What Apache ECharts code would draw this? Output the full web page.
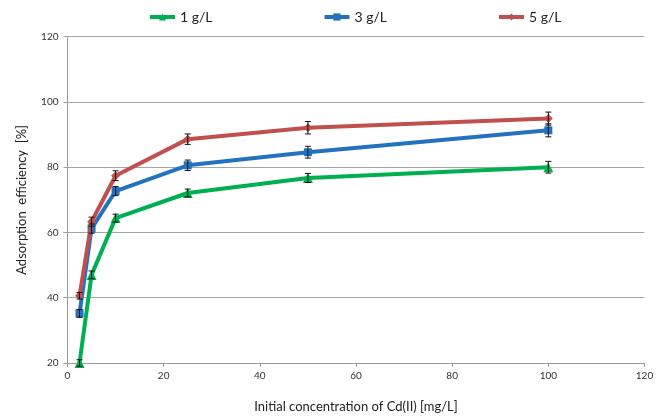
<!DOCTYPE html>
<html>
<head>
<meta charset="utf-8">
<script src="https://cdn.jsdelivr.net/npm/echarts@6/dist/echarts.min.js"></script>
<style>
  html, body { margin: 0; padding: 0; background: #fff; }
  #chart { width: 664px; height: 418px; }
</style>
</head>
<body>
<div id="chart"></div>
<script>
// Initial Cd(II) concentration, mg/L
const concentrations = [2.5, 5, 10, 25, 50, 100];

// Adsorption efficiency (%) for each adsorbent dose
const eff1 = [20.0, 47.0, 64.4, 72.1, 76.7, 80.0];
const eff3 = [35.2, 61.2, 72.7, 80.6, 84.6, 91.3];
const eff5 = [40.6, 63.3, 77.4, 88.6, 92.1, 94.9];

// Standard deviations (error bar half-length, %)
const err1 = [1.0, 1.2, 1.2, 1.2, 1.4, 1.8];
const err3 = [1.2, 1.4, 1.4, 1.6, 1.8, 2.0];
const err5 = [1.0, 1.4, 1.5, 1.6, 1.9, 2.0];

const seriesNames = ['1 g/L', '3 g/L', '5 g/L'];
const colors = ['#00B050', '#2272C0', '#C0504D'];
const symbols = ['triangle', 'rect', 'diamond'];

const FONT = 'Lato, "Open Sans", sans-serif';

function pairs(vals) {
  return concentrations.map((c, i) => [c, vals[i]]);
}

function errorBars(vals, errs, z) {
  return {
    type: 'custom',
    z: z,
    silent: true,
    data: concentrations.map((c, i) => [c, vals[i] - errs[i], vals[i] + errs[i]]),
    renderItem: function (params, api) {
      const lo = api.coord([api.value(0), api.value(1)]);
      const hi = api.coord([api.value(0), api.value(2)]);
      const w = 3;
      const style = { stroke: '#111', lineWidth: 1 };
      return {
        type: 'group',
        children: [
          { type: 'line', shape: { x1: lo[0], y1: lo[1], x2: hi[0], y2: hi[1] }, style },
          { type: 'line', shape: { x1: lo[0] - w, y1: lo[1], x2: lo[0] + w, y2: lo[1] }, style },
          { type: 'line', shape: { x1: hi[0] - w, y1: hi[1], x2: hi[0] + w, y2: hi[1] }, style }
        ]
      };
    }
  };
}

const effData = [eff1, eff3, eff5];
const errData = [err1, err3, err5];

const lineSeries = seriesNames.map((name, k) => ({
  name: name,
  type: 'line',
  z: 3 + k,
  data: pairs(effData[k]),
  symbol: symbols[k],
  symbolSize: k === 0 ? 10 : (k === 1 ? 8 : 9),
  showAllSymbol: true,
  lineStyle: { color: colors[k], width: 4 },
  itemStyle: { color: colors[k] },
  emphasis: { disabled: true }
}));

const barSeries = seriesNames.map((name, k) => errorBars(effData[k], errData[k], 10 + k));

const chart = echarts.init(document.getElementById('chart'), null, { renderer: 'canvas' });
chart.setOption({
  animation: false,
  backgroundColor: '#ffffff',
  textStyle: { fontFamily: FONT },
  legend: {
    top: 5,
    left: 143,
    itemGap: 110,
    itemWidth: 25,
    itemHeight: 9,
    data: seriesNames,
    lineStyle: { width: 4 },
    textStyle: { fontFamily: FONT, fontSize: 14, color: '#222' }
  },
  grid: { left: 67.5, right: 19.5, top: 36.7, bottom: 55, containLabel: false },
  xAxis: {
    type: 'value',
    min: 0,
    max: 120,
    interval: 20,
    name: 'Initial concentration of Cd(II) [mg/L]',
    nameLocation: 'middle',
    nameGap: 37,
    nameTextStyle: { fontFamily: FONT, fontSize: 13, color: '#222' },
    axisLine: { lineStyle: { color: '#9a9a9a', width: 1 } },
    axisTick: { show: true, length: 4, lineStyle: { color: '#9a9a9a' } },
    axisLabel: { fontFamily: FONT, fontSize: 10, color: '#333', margin: 8 },
    splitLine: { show: false }
  },
  yAxis: {
    type: 'value',
    min: 20,
    max: 120,
    interval: 20,
    name: 'Adsorption  efficiency  [%]',
    nameLocation: 'middle',
    nameGap: 39,
    nameRotate: 90,
    nameTextStyle: { fontFamily: FONT, fontSize: 13, color: '#222' },
    axisLine: { show: true, lineStyle: { color: '#9a9a9a', width: 1 } },
    axisTick: { show: true, length: 4, lineStyle: { color: '#9a9a9a' } },
    axisLabel: { fontFamily: FONT, fontSize: 10, color: '#333', margin: 9 },
    splitLine: { show: true, lineStyle: { color: '#a6a6a6', width: 1 } }
  },
  series: lineSeries.concat(barSeries)
});
</script>
</body>
</html>
